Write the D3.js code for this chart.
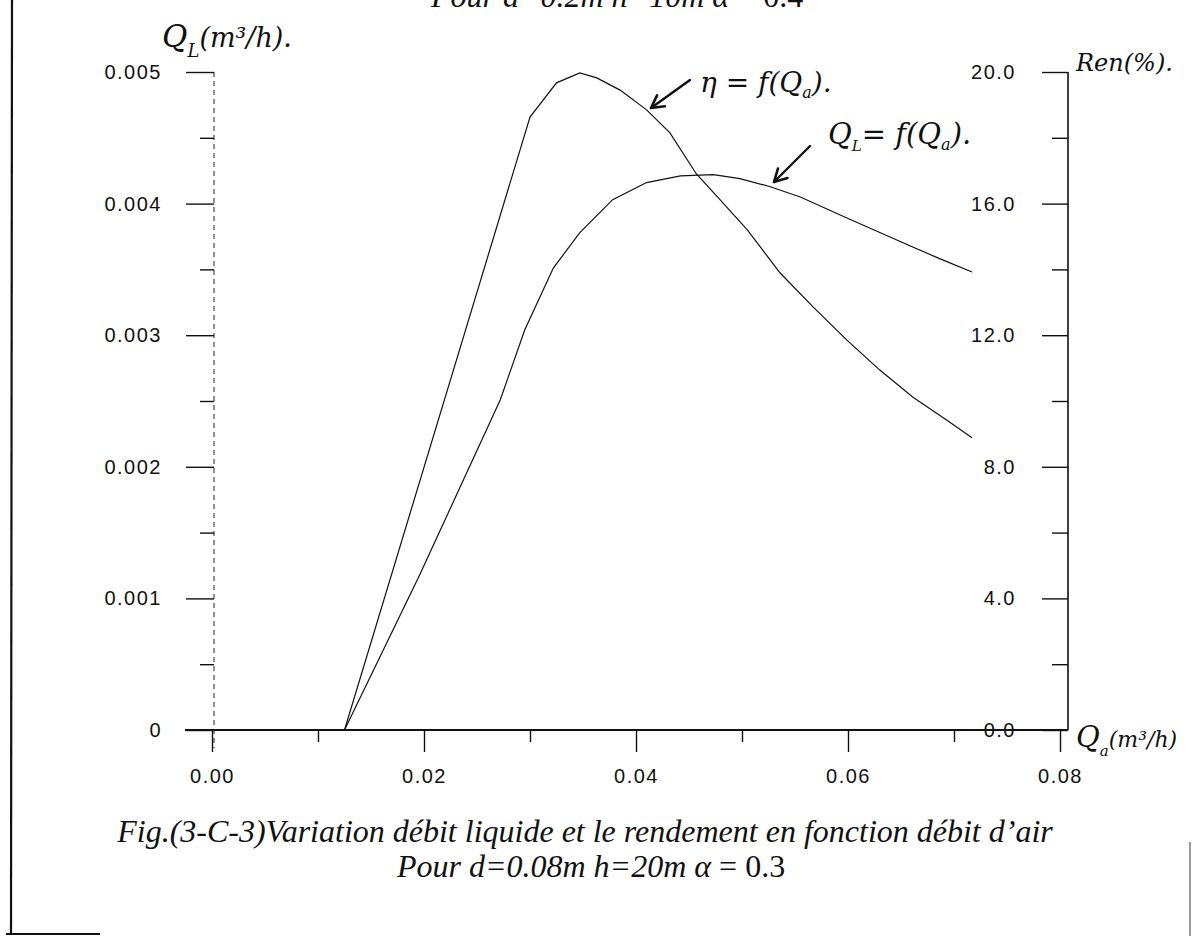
<!DOCTYPE html>
<html>
<head>
<meta charset="utf-8">
<script src="https://cdn.jsdelivr.net/npm/d3@7"></script>
<style>
  html, body { margin: 0; padding: 0; background: #fff; }
  svg { display: block; }
  .tick text { font-family: "Liberation Sans", Arial, sans-serif; font-size: 20px; letter-spacing: 1.5px; fill: #111; }
  .tick line { stroke: #111; stroke-width: 1.4; }
  .hand { font-family: "DejaVu Serif", "Liberation Serif", serif; font-style: italic; fill: #111; }
  .cap { font-family: "Liberation Serif", "Times New Roman", serif; font-style: italic; font-size: 32px; fill: #111; }
</style>
</head>
<body>
<script>
// ---------------------------------------------
// data
// ---------------------------------------------

// Q_L = f(Qa)  (left axis, m3/h)
var qaLiquid = [0.0125, 0.0196, 0.0272, 0.0295, 0.0322, 0.0347, 0.0378, 0.0410, 0.0442, 0.0473,
                0.0498, 0.0526, 0.0555, 0.0599, 0.0630, 0.0661, 0.0687, 0.0717];
var qLiquid  = [0, 0.00118, 0.00251, 0.00304, 0.00351, 0.00378, 0.00403, 0.00416, 0.00421, 0.00422,
                0.00419, 0.00413, 0.00405, 0.00389, 0.00378, 0.00367, 0.00358, 0.00348];

// eta = f(Qa)  (right axis, %)
var qaRend = [0.0125, 0.0300, 0.0325, 0.0347, 0.0363, 0.0385, 0.0410, 0.0432, 0.0457, 0.0482,
              0.0505, 0.0536, 0.0567, 0.0599, 0.0630, 0.0661, 0.0693, 0.0717];
var rend   = [0, 18.63, 19.67, 19.97, 19.82, 19.45, 18.85, 18.15, 16.90, 16.02,
              15.20, 13.89, 12.86, 11.85, 10.94, 10.12, 9.42, 8.88];

var xTicks = [0, 0.02, 0.04, 0.06, 0.08];
var xMinor = [0.01, 0.03, 0.05, 0.07];
var yLeftTicks = [0, 0.001, 0.002, 0.003, 0.004, 0.005];
var yLeftMinor = [0.0005, 0.0015, 0.0025, 0.0035, 0.0045];
var yRightTicks = [0, 4, 8, 12, 16, 20];
var yRightMinor = [2, 6, 10, 14, 18];

var W = 1192, H = 936;

var svg = d3.select("body").append("svg")
	.attr("width", W)
	.attr("height", H);

var x = d3.scaleLinear().domain([0, 0.08]).range([212, 1060]);
var yL = d3.scaleLinear().domain([0, 0.005]).range([730, 72]);
var yR = d3.scaleLinear().domain([0, 20]).range([730, 72]);

var xLeftAxis = 214, xRightAxis = 1068;

// --------------------------------
// page frame remnants of the scan
// --------------------------------
svg.append("line").attr("x1", 12).attr("y1", 0).attr("x2", 11).attr("y2", 934)
	.attr("stroke", "#111").attr("stroke-width", 2.2);
svg.append("line").attr("x1", 6).attr("y1", 934).attr("x2", 100).attr("y2", 934)
	.attr("stroke", "#111").attr("stroke-width", 2);
svg.append("line").attr("x1", 1190).attr("y1", 842).attr("x2", 1190).attr("y2", 936)
	.attr("stroke", "#555").attr("stroke-width", 1.2);

// --------------------------------
// axes
// --------------------------------
// left axis (dotted in the scan)
svg.append("line")
	.attr("x1", xLeftAxis).attr("y1", yL(0.005)).attr("x2", xLeftAxis).attr("y2", yL(0) + 18)
	.attr("stroke", "#222").attr("stroke-width", 1)
	.attr("stroke-dasharray", "5,4");

var gLeft = svg.append("g").attr("transform", "translate(" + xLeftAxis + ",0)")
	.call(d3.axisLeft(yL).tickValues(yLeftTicks).tickSize(28).tickPadding(24)
		.tickFormat(function(d){ return d === 0 ? "0" : d3.format(".3f")(d); }));
gLeft.select(".domain").remove();

var gLeftMinor = svg.append("g").attr("transform", "translate(" + xLeftAxis + ",0)")
	.call(d3.axisLeft(yL).tickValues(yLeftMinor).tickSize(14).tickFormat(""));
gLeftMinor.select(".domain").remove();

// right axis
svg.append("line")
	.attr("x1", xRightAxis).attr("y1", yR(20)).attr("x2", xRightAxis).attr("y2", yR(0))
	.attr("stroke", "#111").attr("stroke-width", 1.6);

var gRight = svg.append("g").attr("transform", "translate(" + xRightAxis + ",0)")
	.call(d3.axisLeft(yR).tickValues(yRightTicks).tickSize(26).tickPadding(26)
		.tickFormat(d3.format(".1f")));
gRight.select(".domain").remove();

var gRightMinor = svg.append("g").attr("transform", "translate(" + xRightAxis + ",0)")
	.call(d3.axisLeft(yR).tickValues(yRightMinor).tickSize(16).tickFormat(""));
gRightMinor.select(".domain").remove();

// bottom axis
svg.append("line")
	.attr("x1", 185).attr("y1", yL(0)).attr("x2", xRightAxis).attr("y2", yL(0))
	.attr("stroke", "#111").attr("stroke-width", 2);

var gBottom = svg.append("g").attr("transform", "translate(0," + yL(0) + ")")
	.call(d3.axisBottom(x).tickValues(xTicks).tickSize(22).tickPadding(17)
		.tickFormat(d3.format(".2f")));
gBottom.select(".domain").remove();

var gBottomMinor = svg.append("g").attr("transform", "translate(0," + yL(0) + ")")
	.call(d3.axisBottom(x).tickValues(xMinor).tickSize(12).tickFormat(""));
gBottomMinor.select(".domain").remove();

// --------------------------------
// curves
// --------------------------------
var lineL = d3.line()
	.x(function(d, i){ return x(qaLiquid[i]); })
	.y(function(d){ return yL(d); });
var lineR = d3.line()
	.x(function(d, i){ return x(qaRend[i]); })
	.y(function(d){ return yR(d); });

svg.append("path").datum(qLiquid)
	.attr("d", lineL)
	.attr("fill", "none").attr("stroke", "#111").attr("stroke-width", 1.2);
svg.append("path").datum(rend)
	.attr("d", lineR)
	.attr("fill", "none").attr("stroke", "#111").attr("stroke-width", 1.2);

// --------------------------------
// handwritten labels
// --------------------------------
function arrow(x1, y1, x2, y2){
	var a = Math.atan2(y2 - y1, x2 - x1), L = 14, s = 0.5;
	svg.append("line").attr("x1", x1).attr("y1", y1).attr("x2", x2).attr("y2", y2)
		.attr("stroke", "#111").attr("stroke-width", 2.4).attr("stroke-linecap", "round");
	svg.append("path")
		.attr("d", "M" + (x2 - L*Math.cos(a - s)) + "," + (y2 - L*Math.sin(a - s)) +
			" L" + x2 + "," + y2 +
			" L" + (x2 - L*Math.cos(a + s)) + "," + (y2 - L*Math.sin(a + s)))
		.attr("fill", "none").attr("stroke", "#111").attr("stroke-width", 2.6)
		.attr("stroke-linecap", "round").attr("stroke-linejoin", "round");
}

var t1 = svg.append("text").attr("class", "hand").attr("x", 162).attr("y", 47).style("font-size", "31px");
t1.append("tspan").text("Q");
t1.append("tspan").attr("dy", 10).style("font-size", "18px").text("L");
t1.append("tspan").attr("dy", -10).style("font-size", "27px").text("(m³/h).");

var t2 = svg.append("text").attr("class", "hand").attr("x", 1076).attr("y", 71).style("font-size", "24px").text("Ren(%).");

var t3 = svg.append("text").attr("class", "hand").attr("x", 1076).attr("y", 747).style("font-size", "29px");
t3.append("tspan").text("Q");
t3.append("tspan").attr("dy", 9).style("font-size", "15px").text("a");
t3.append("tspan").attr("dy", -9).style("font-size", "22px").text("(m³/h)");

var t4 = svg.append("text").attr("class", "hand").attr("x", 700).attr("y", 92).style("font-size", "28px");
t4.append("tspan").text("η = f(Q");
t4.append("tspan").attr("dy", 6).style("font-size", "16px").text("a");
t4.append("tspan").attr("dy", -6).text(").");
arrow(690, 80, 651, 108);

var t5 = svg.append("text").attr("class", "hand").attr("x", 828).attr("y", 144).style("font-size", "29px");
t5.append("tspan").text("Q");
t5.append("tspan").attr("dy", 7).style("font-size", "15px").text("L");
t5.append("tspan").attr("dy", -7).text("= f(Q");
t5.append("tspan").attr("dy", 6).style("font-size", "16px").text("a");
t5.append("tspan").attr("dy", -6).text(").");
arrow(810, 146, 774, 182);

// --------------------------------
// captions
// --------------------------------
// previous figure's caption, cut by the page top in the scan
var capTop = svg.append("text").attr("class", "cap").attr("x", 617).attr("y", 7).attr("text-anchor", "middle");
capTop.append("tspan").text("Pour d=0.2m h=10m ");
capTop.append("tspan").text("α");
capTop.append("tspan").style("font-style", "normal").text(" = 0.4");

svg.append("text").attr("class", "cap").attr("x", 585).attr("y", 842).attr("text-anchor", "middle")
	.text("Fig.(3-C-3)Variation débit liquide et le rendement en fonction débit d’air");

var cap2 = svg.append("text").attr("class", "cap").attr("x", 591).attr("y", 877).attr("text-anchor", "middle");
cap2.append("tspan").text("Pour d=0.08m h=20m  ");
cap2.append("tspan").text("α");
cap2.append("tspan").style("font-style", "normal").text(" = 0.3");
</script>
</body>
</html>
